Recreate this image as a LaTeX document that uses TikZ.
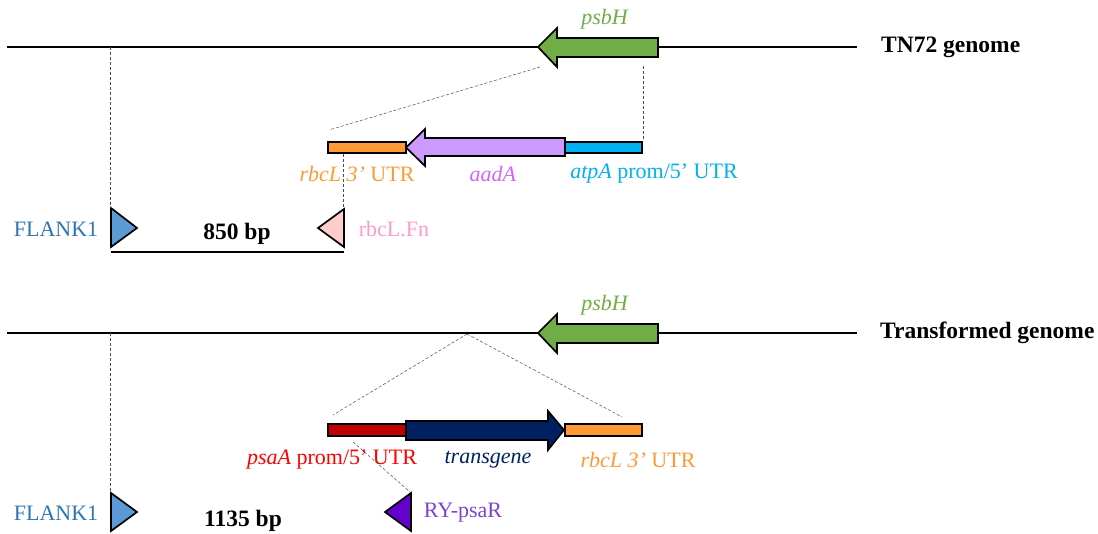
\documentclass[tikz,border=0pt]{standalone}
\usepackage{fontspec}
\setmainfont{Liberation Serif}
\usetikzlibrary{calc}
\definecolor{psbhgreen}{HTML}{70AD47}
\definecolor{utrorange}{HTML}{FF9933}
\definecolor{aadapurple}{HTML}{CC99FF}
\definecolor{aadatext}{HTML}{CC66FF}
\definecolor{atpablue}{HTML}{00B0F0}
\definecolor{flankblue}{HTML}{5B9BD5}
\definecolor{flanktext}{HTML}{2E75B6}
\definecolor{fnpink}{HTML}{FFCCCC}
\definecolor{fntext}{HTML}{FF99CC}
\definecolor{psared}{HTML}{C00000}
\definecolor{psatext}{HTML}{FF0000}
\definecolor{transnavy}{HTML}{002060}
\definecolor{psarviolet}{HTML}{6600CC}
\definecolor{psartext}{HTML}{8040D0}

\begin{document}
\begin{tikzpicture}[x=1pt,y=-1pt,
  genome/.style={line width=1.7pt},
  gbox/.style={draw=black,line width=1.7pt,line join=miter},
  guide/.style={densely dashed,line width=0.5pt,black!70},
  lbl/.style={inner sep=0pt,font=\fontsize{22}{26}\selectfont},
  title/.style={lbl,font=\fontsize{23.5}{28}\selectfont\bfseries}]
\useasboundingbox (0,0) rectangle (1098,533);

% TN72 genome
\draw[genome] (7,47) -- (857,47);
\draw[gbox,fill=psbhgreen] (658,38) -- (557,38) -- (557,28) -- (538,47) -- (557,67) -- (557,57) -- (658,57) -- cycle;
\node[lbl,text=psbhgreen] (psbhA) at (605,19) {\textit{psbH}};
\node[title,anchor=west] (tn72) at (881,47) {TN72 genome};

\coordinate (cutA) at (540,67);
\coordinate (cutB) at (643,66);
\coordinate (flankAtop) at (110,47);

\draw[gbox,fill=utrorange] (328,142) rectangle (406,153);
\draw[gbox,fill=aadapurple] (565,138) -- (425,138) -- (425,129) -- (406,147.5) -- (425,166) -- (425,156) -- (565,156) -- cycle;
\draw[gbox,fill=atpablue] (565,142) rectangle (642,153);
\coordinate (cassAl) at (329,130);
\coordinate (cassAr) at (643,141);
\coordinate (utrAbot) at (343,154);

\node[lbl,text=utrorange] (rbclA) at (357,174) {\textit{rbcL 3’} UTR};
\node[lbl,text=aadatext] (aada) at (493,174) {\textit{aadA}};
\node[lbl,text=atpablue] (atpa) at (654,174) {\textit{atpA} prom/5’ UTR};

\draw[guide] (cutA) -- (cassAl);
\draw[guide] (cutB) -- (cassAr);

% primers, 850 bp
\draw[gbox,fill=flankblue] (111,208) -- (137,228) -- (111,247) -- cycle;
\coordinate (flankAbot) at (110,208);
\node[lbl,text=flanktext] (flankA) at (56,229) {FLANK1};
\draw[gbox,fill=fnpink] (344,209) -- (318,228) -- (344,247) -- cycle;
\coordinate (fnTop) at (343,209);
\node[lbl,text=fntext] (rbcfn) at (394,229) {rbcL.Fn};
\draw[guide] (flankAtop) -- (flankAbot);
\draw[guide] (utrAbot) -- (fnTop);
\coordinate (bpAl) at (111,252);
\coordinate (bpAr) at (344,252);
\draw[genome] (bpAl) -- (bpAr);
\node[title] (bpA) at (237,234) {850 bp};

% Transformed genome
\draw[genome] (7,333) -- (857,333);
\draw[gbox,fill=psbhgreen] (658,324) -- (557,324) -- (557,314) -- (538,333) -- (557,353) -- (557,343) -- (658,343) -- cycle;
\node[lbl,text=psbhgreen] (psbhB) at (605,305) {\textit{psbH}};
\node[title,anchor=west] (trans) at (880,333) {Transformed genome};

\coordinate (cutC) at (467,334);
\coordinate (flankBtop) at (110,333);

\draw[gbox,fill=psared] (328,424) rectangle (406,436);
\draw[gbox,fill=transnavy] (406,421) -- (548,421) -- (548,411) -- (564,430) -- (548,450) -- (548,440) -- (406,440) -- cycle;
\draw[gbox,fill=utrorange] (565,424) rectangle (642,436);
\coordinate (cassBl) at (333,415);
\coordinate (cassBr) at (622,417);
\coordinate (psaBot) at (353,442);

\node[lbl,text=psatext] (psaa) at (332,460) {\textit{psaA} prom/5’ UTR};
\node[lbl,text=transnavy] (tgene) at (488,460) {\textit{transgene}};
\node[lbl,text=utrorange] (rbclB) at (638,460) {\textit{rbcL 3’} UTR};

\draw[guide] (cutC) -- (cassBl);
\draw[guide] (cutC) -- (cassBr);

% primers, 1135 bp
\draw[gbox,fill=flankblue] (111,493) -- (137,512) -- (111,531) -- cycle;
\coordinate (flankBbot) at (110,493);
\node[lbl,text=flanktext] (flankB) at (56,513) {FLANK1};
\draw[gbox,fill=psarviolet] (411,493) -- (385,512) -- (411,531) -- cycle;
\coordinate (psarTop) at (410,492);
\node[lbl,text=psartext] (psar) at (463,513) {RY-psaR};
\draw[guide] (flankBtop) -- (flankBbot);
\draw[guide] (psaBot) -- (psarTop);
\node[title] (bpB) at (243,521) {1135 bp};

\end{tikzpicture}
\end{document}
